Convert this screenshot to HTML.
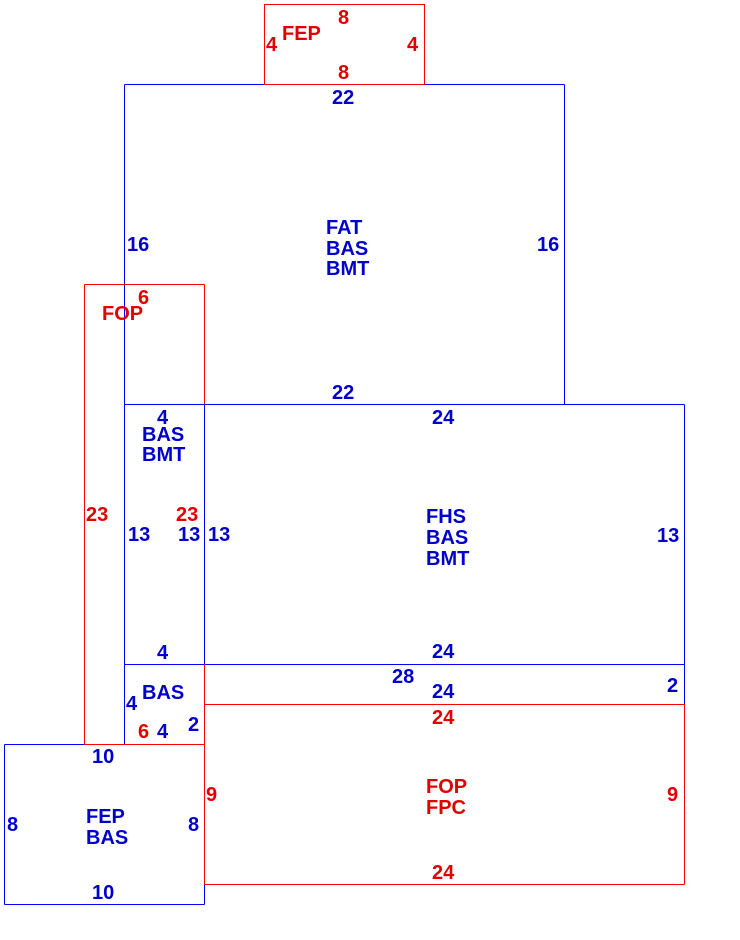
<!DOCTYPE html>
<html>
<head>
<meta charset="utf-8">
<style>
  html, body { margin: 0; padding: 0; background: #ffffff; }
  body { width: 740px; height: 940px; overflow: hidden; }
  svg { display: block; }
  text { font-family: "Liberation Sans", Arial, sans-serif; font-weight: bold; font-size: 20px; }
  .b { fill: #0000cc; }
  .r { fill: #e00000; }
</style>
</head>
<body>
<svg width="740" height="940" viewBox="0 0 740 940" xmlns="http://www.w3.org/2000/svg">
  <g fill="none" stroke-width="1" shape-rendering="crispEdges">
    <!-- Blue lines -->
    <g stroke="#0000ff">
      <line x1="124.5" y1="84.5" x2="264.5" y2="84.5"/>
      <line x1="424.5" y1="84.5" x2="564.5" y2="84.5"/>
      <line x1="124.5" y1="84.5" x2="124.5" y2="744.5"/>
      <line x1="564.5" y1="84.5" x2="564.5" y2="404.5"/>
      <line x1="124.5" y1="404.5" x2="684.5" y2="404.5"/>
      <line x1="204.5" y1="404.5" x2="204.5" y2="664.5"/>
      <line x1="684.5" y1="404.5" x2="684.5" y2="704.5"/>
      <line x1="124.5" y1="664.5" x2="684.5" y2="664.5"/>
      <line x1="4.5" y1="744.5" x2="84.5" y2="744.5"/>
      <line x1="4.5" y1="744.5" x2="4.5" y2="904.5"/>
      <line x1="4.5" y1="904.5" x2="204.5" y2="904.5"/>
      <line x1="204.5" y1="884.5" x2="204.5" y2="904.5"/>
    </g>
    <!-- Red lines -->
    <g stroke="#ff0000">
      <rect x="264.5" y="4.5" width="160" height="80"/>
      <line x1="84.5" y1="284.5" x2="204.5" y2="284.5"/>
      <line x1="84.5" y1="284.5" x2="84.5" y2="744.5"/>
      <line x1="204.5" y1="284.5" x2="204.5" y2="404.5"/>
      <line x1="84.5" y1="744.5" x2="204.5" y2="744.5"/>
      <line x1="204.5" y1="664.5" x2="204.5" y2="884.5"/>
      <line x1="204.5" y1="704.5" x2="684.5" y2="704.5"/>
      <line x1="684.5" y1="704.5" x2="684.5" y2="884.5"/>
      <line x1="204.5" y1="884.5" x2="684.5" y2="884.5"/>
    </g>
  </g>

  <!-- Top FEP box -->
  <text class="r" x="338" y="24">8</text>
  <text class="r" x="266" y="51">4</text>
  <text class="r" x="282" y="40">FEP</text>
  <text class="r" x="407" y="51">4</text>
  <text class="r" x="338" y="79">8</text>

  <!-- FAT box -->
  <text class="b" x="332" y="104">22</text>
  <text class="b" x="127" y="251">16</text>
  <text class="b" x="537" y="251">16</text>
  <text class="b" x="326" y="234">FAT</text>
  <text class="b" x="326" y="255">BAS</text>
  <text class="b" x="326" y="275">BMT</text>
  <text class="b" x="332" y="399">22</text>

  <!-- FOP tall -->
  <text class="r" x="138" y="304">6</text>
  <text class="r" x="102" y="320">FOP</text>
  <text class="r" x="86" y="521">23</text>
  <text class="r" x="176" y="521">23</text>

  <!-- small left BAS BMT -->
  <text class="b" x="157" y="424">4</text>
  <text class="b" x="142" y="441">BAS</text>
  <text class="b" x="142" y="461">BMT</text>
  <text class="b" x="128" y="541">13</text>
  <text class="b" x="178" y="541">13</text>
  <text class="b" x="157" y="659">4</text>

  <!-- FHS box -->
  <text class="b" x="432" y="424">24</text>
  <text class="b" x="208" y="541">13</text>
  <text class="b" x="426" y="523">FHS</text>
  <text class="b" x="426" y="544">BAS</text>
  <text class="b" x="426" y="565">BMT</text>
  <text class="b" x="657" y="542">13</text>
  <text class="b" x="432" y="658">24</text>

  <!-- strip -->
  <text class="b" x="392" y="683">28</text>
  <text class="b" x="432" y="698">24</text>
  <text class="b" x="667" y="692">2</text>

  <!-- small BAS -->
  <text class="b" x="142" y="699">BAS</text>
  <text class="b" x="126" y="710">4</text>
  <text class="r" x="138" y="738">6</text>
  <text class="b" x="157" y="738">4</text>
  <text class="b" x="188" y="731">2</text>

  <!-- FOP FPC bottom -->
  <text class="r" x="432" y="724">24</text>
  <text class="r" x="206" y="801">9</text>
  <text class="r" x="426" y="793">FOP</text>
  <text class="r" x="426" y="814">FPC</text>
  <text class="r" x="667" y="801">9</text>
  <text class="r" x="432" y="879">24</text>

  <!-- FEP BAS bottom -->
  <text class="b" x="92" y="763">10</text>
  <text class="b" x="7" y="831">8</text>
  <text class="b" x="86" y="823">FEP</text>
  <text class="b" x="86" y="844">BAS</text>
  <text class="b" x="188" y="831">8</text>
  <text class="b" x="92" y="899">10</text>
</svg>
</body>
</html>
